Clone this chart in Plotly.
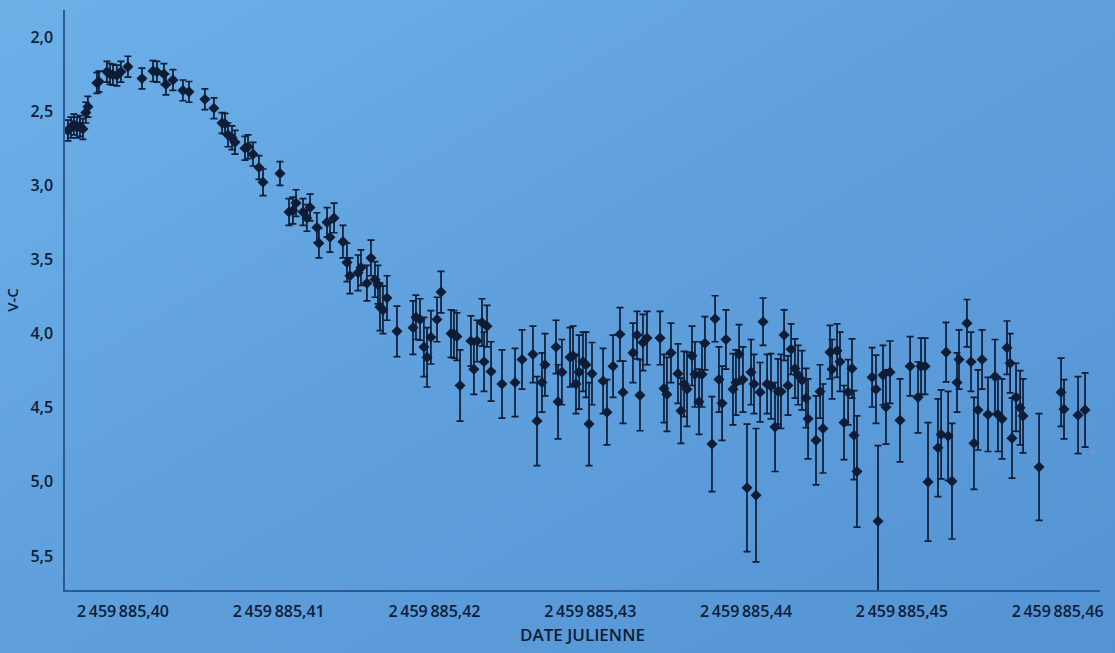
import base64
import plotly.graph_objects as go

# Light curve: V-C magnitude differences against Julian date (offset from JD 2459885)
JD_BASE = 2459885

jd_offset = [
    0.39647, 0.39666, 0.39685, 0.39705, 0.39724, 0.39743, 0.39762, 0.39775, 0.39833, 0.39846,
    0.39897, 0.39917, 0.39936, 0.39961, 0.39987, 0.40032, 0.40122, 0.40193, 0.40218, 0.40263,
    0.40276, 0.40321, 0.40385, 0.40424, 0.40526, 0.40584, 0.40636, 0.40655, 0.40674, 0.40700,
    0.40719, 0.40783, 0.40803, 0.40835, 0.40873, 0.40899, 0.41008, 0.41066, 0.41091, 0.41111,
    0.41156, 0.41181, 0.41201, 0.41245, 0.41258, 0.41310, 0.41329, 0.41355, 0.41412, 0.41438,
    0.41457, 0.41509, 0.41528, 0.41566, 0.41592, 0.41618, 0.41637, 0.41650, 0.41669, 0.41695,
    0.41759, 0.41862, 0.41881, 0.41907, 0.41932, 0.41952, 0.41977, 0.42016, 0.42042, 0.42106,
    0.42125, 0.42144, 0.42164, 0.42234, 0.42253, 0.42273, 0.42305, 0.42318, 0.42337, 0.42363,
    0.42433, 0.42517, 0.42562, 0.42632, 0.42658, 0.42690, 0.42709, 0.42780, 0.42793, 0.42818,
    0.42870, 0.42889, 0.42908, 0.42928, 0.42953, 0.42972, 0.42992, 0.43011, 0.43082, 0.43107,
    0.43146, 0.43191, 0.43210, 0.43274, 0.43300, 0.43319, 0.43338, 0.43364, 0.43448, 0.43473,
    0.43492, 0.43518, 0.43563, 0.43582, 0.43602, 0.43621, 0.43653, 0.43672, 0.43698, 0.43717,
    0.43736, 0.43781, 0.43801, 0.43826, 0.43846, 0.43871, 0.43916, 0.43935, 0.43955, 0.43980,
    0.44006, 0.44032, 0.44051, 0.44064, 0.44090, 0.44109, 0.44135, 0.44160, 0.44186, 0.44205,
    0.44224, 0.44244, 0.44269, 0.44289, 0.44314, 0.44334, 0.44359, 0.44385, 0.44398, 0.44449,
    0.44475, 0.44494, 0.44539, 0.44552, 0.44584, 0.44603, 0.44629, 0.44655, 0.44680, 0.44693,
    0.44712, 0.44809, 0.44834, 0.44847, 0.44879, 0.44898, 0.44924, 0.44988, 0.45053, 0.45104,
    0.45123, 0.45149, 0.45168, 0.45232, 0.45252, 0.45284, 0.45297, 0.45322, 0.45354, 0.45367,
    0.45418, 0.45444, 0.45463, 0.45489, 0.45515, 0.45553, 0.45598, 0.45617, 0.45643, 0.45675,
    0.45695, 0.45707, 0.45733, 0.45759, 0.45778, 0.45881, 0.46022, 0.46041, 0.46131, 0.46176,
]

v_minus_c = [
    2.63, 2.61, 2.59, 2.61, 2.60, 2.62, 2.51, 2.47, 2.31, 2.30,
    2.235, 2.25, 2.255, 2.26, 2.235, 2.20, 2.28, 2.23, 2.235, 2.25,
    2.32, 2.29, 2.36, 2.37, 2.42, 2.48, 2.58, 2.585, 2.66, 2.68,
    2.71, 2.75, 2.74, 2.79, 2.88, 2.98, 2.92, 3.18, 3.17, 3.12,
    3.18, 3.22, 3.15, 3.285, 3.39, 3.25, 3.35, 3.22, 3.38, 3.52,
    3.61, 3.59, 3.555, 3.66, 3.49, 3.635, 3.67, 3.82, 3.84, 3.76,
    3.985, 3.96, 3.89, 3.905, 4.09, 4.16, 4.025, 3.905, 3.72, 4.00,
    4.005, 4.02, 4.35, 4.05, 4.24, 4.05, 3.925, 4.19, 3.95, 4.255,
    4.34, 4.33, 4.175, 4.14, 4.59, 4.33, 4.21, 4.09, 4.46, 4.26,
    4.16, 4.15, 4.34, 4.26, 4.19, 4.21, 4.61, 4.27, 4.32, 4.53,
    4.22, 4.005, 4.395, 4.13, 4.01, 4.415, 4.06, 4.03, 4.03, 4.37,
    4.41, 4.13, 4.27, 4.52, 4.34, 4.375, 4.15, 4.275, 4.46, 4.275,
    4.065, 4.745, 3.90, 4.31, 4.47, 4.04, 4.375, 4.33, 4.14, 4.31,
    5.04, 4.26, 4.34, 5.09, 4.395, 3.92, 4.34, 4.355, 4.63, 4.39,
    4.39, 4.01, 4.35, 4.105, 4.235, 4.28, 4.315, 4.435, 4.575, 4.72,
    4.39, 4.64, 4.125, 4.24, 4.115, 4.19, 4.60, 4.395, 4.235, 4.685,
    4.93, 4.295, 4.375, 5.265, 4.28, 4.495, 4.26, 4.585, 4.22, 4.43,
    4.22, 4.22, 5.00, 4.77, 4.68, 4.125, 4.69, 4.995, 4.33, 4.175,
    3.93, 4.19, 4.74, 4.515, 4.175, 4.545, 4.29, 4.545, 4.575, 4.095,
    4.20, 4.705, 4.43, 4.50, 4.555, 4.90, 4.395, 4.51, 4.55, 4.515,
]

v_error = [
    0.07, 0.07, 0.07, 0.07, 0.07, 0.07, 0.07, 0.07, 0.07, 0.07,
    0.07, 0.07, 0.07, 0.07, 0.07, 0.07, 0.07, 0.07, 0.07, 0.07,
    0.07, 0.07, 0.07, 0.07, 0.07, 0.07, 0.07, 0.07, 0.08, 0.08,
    0.08, 0.08, 0.08, 0.08, 0.08, 0.09, 0.08, 0.09, 0.09, 0.09,
    0.09, 0.09, 0.09, 0.10, 0.10, 0.10, 0.10, 0.10, 0.11, 0.13,
    0.12, 0.12, 0.12, 0.12, 0.12, 0.12, 0.13, 0.16, 0.16, 0.15,
    0.17, 0.18, 0.15, 0.14, 0.20, 0.20, 0.18, 0.15, 0.14, 0.16,
    0.16, 0.16, 0.24, 0.17, 0.17, 0.14, 0.16, 0.20, 0.14, 0.20,
    0.23, 0.23, 0.20, 0.19, 0.30, 0.20, 0.21, 0.18, 0.25, 0.22,
    0.20, 0.20, 0.20, 0.25, 0.20, 0.22, 0.28, 0.21, 0.22, 0.22,
    0.21, 0.18, 0.21, 0.20, 0.16, 0.24, 0.19, 0.18, 0.18, 0.23,
    0.25, 0.20, 0.20, 0.22, 0.22, 0.25, 0.20, 0.22, 0.22, 0.22,
    0.18, 0.32, 0.155, 0.22, 0.25, 0.20, 0.24, 0.22, 0.20, 0.22,
    0.43, 0.22, 0.20, 0.45, 0.20, 0.16, 0.20, 0.22, 0.30, 0.22,
    0.25, 0.17, 0.20, 0.17, 0.20, 0.20, 0.20, 0.20, 0.27, 0.30,
    0.18, 0.30, 0.18, 0.20, 0.18, 0.20, 0.25, 0.22, 0.20, 0.30,
    0.375, 0.20, 0.23, 0.51, 0.20, 0.25, 0.21, 0.28, 0.20, 0.24,
    0.19, 0.19, 0.40, 0.33, 0.30, 0.20, 0.30, 0.39, 0.20, 0.20,
    0.16, 0.20, 0.31, 0.27, 0.20, 0.25, 0.25, 0.25, 0.27, 0.18,
    0.20, 0.27, 0.23, 0.25, 0.25, 0.36, 0.23, 0.20, 0.26, 0.25,
]

# Last, faintly printed measurement
faint_offset = [0.46227]
faint_value = [4.80]
faint_error = [0.32]

x_ticks = [0.40, 0.41, 0.42, 0.43, 0.44, 0.45, 0.46]
x_tick_text = ["2\u2009459\u2009885,40", "2\u2009459\u2009885,41", "2\u2009459\u2009885,42",
               "2\u2009459\u2009885,43", "2\u2009459\u2009885,44", "2\u2009459\u2009885,45",
               "2\u2009459\u2009885,46"]
y_ticks = [2.0, 2.5, 3.0, 3.5, 4.0, 4.5, 5.0, 5.5]
y_tick_text = ["2,0", "2,5", "3,0", "3,5", "4,0", "4,5", "5,0", "5,5"]

INK = "#0e1c36"
AXIS = "#2c5b90"

# Soft diagonal shading of the page, lighter towards the upper left
gradient_svg = (
    '<svg xmlns="http://www.w3.org/2000/svg" width="1115" height="653" preserveAspectRatio="none">'
    '<defs><linearGradient id="g" x1="0" y1="0" x2="1" y2="1">'
    '<stop offset="0" stop-color="#6db0e8"/>'
    '<stop offset="0.5" stop-color="#5e9fdc"/>'
    '<stop offset="1" stop-color="#5493d3"/>'
    '</linearGradient></defs>'
    '<rect width="1115" height="653" fill="url(#g)"/></svg>'
)
gradient_uri = "data:image/svg+xml;base64," + base64.b64encode(gradient_svg.encode()).decode()

fig = go.Figure()

fig.add_trace(go.Scatter(
    x=[JD_BASE + v for v in jd_offset],
    y=v_minus_c,
    mode="markers",
    marker=dict(symbol="diamond", size=8.5, color=INK),
    error_y=dict(type="data", array=v_error, visible=True,
                 color=INK, thickness=1.7, width=3.5),
    showlegend=False,
    cliponaxis=False,
    hoverinfo="x+y",
))

fig.add_trace(go.Scatter(
    x=[JD_BASE + v for v in faint_offset],
    y=faint_value,
    mode="markers",
    marker=dict(symbol="diamond", size=6, color="rgba(120,150,190,0.6)"),
    error_y=dict(type="data", array=faint_error, visible=True,
                 color="rgba(120,150,190,0.5)", thickness=1, width=2),
    showlegend=False,
))

fig.update_layout(
    width=1115, height=653,
    margin=dict(l=65, r=15, t=10, b=63),
    paper_bgcolor="#5e9fdc",
    plot_bgcolor="rgba(0,0,0,0)",
    images=[dict(source=gradient_uri, xref="paper", yref="paper",
                 x=-65 / 1035, y=1 + 10 / 580, sizex=1115 / 1035, sizey=653 / 580,
                 xanchor="left", yanchor="top", sizing="stretch", layer="below")],
    font=dict(family="Open Sans, sans-serif", color=INK, size=15),
    xaxis=dict(
        range=[JD_BASE + 0.39628, JD_BASE + 0.46272],
        tickvals=[JD_BASE + t for t in x_ticks],
        ticktext=x_tick_text,
        showgrid=False, zeroline=False,
        showline=True, linecolor=AXIS, linewidth=1.5,
        ticks="", ticklabelstandoff=6,
        tickfont=dict(size=16, color=INK, weight=600),
        title=dict(text="DATE JULIENNE", font=dict(size=17, color=INK, weight=600), standoff=8),
    ),
    yaxis=dict(
        range=[5.729, 1.818],
        tickvals=y_ticks,
        ticktext=y_tick_text,
        showgrid=False, zeroline=False,
        showline=True, linecolor=AXIS, linewidth=1.5,
        ticks="", ticklabelstandoff=7,
        tickfont=dict(size=16, color=INK, weight=600),
        title=dict(text="V-C", font=dict(size=15, color=INK, weight=600), standoff=8),
    ),
)

fig.write_html("out.html")
